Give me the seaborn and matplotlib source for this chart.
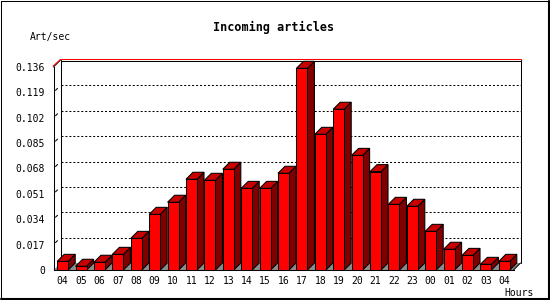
import numpy as np
import pandas as pd
import matplotlib
matplotlib.use("Agg")
import matplotlib.pyplot as plt
import seaborn as sns
from matplotlib.patches import Polygon
from matplotlib.lines import Line2D
from matplotlib.transforms import IdentityTransform

hours = ["04", "05", "06", "07", "08", "09", "10", "11", "12", "13", "14", "15",
         "16", "17", "18", "19", "20", "21", "22", "23", "00", "01", "02", "03", "04"]
rates = [0.0058, 0.0025, 0.0052, 0.0105, 0.0212, 0.0373, 0.0454, 0.0608, 0.0601,
         0.0675, 0.0547, 0.0547, 0.0648, 0.1351, 0.0909, 0.1077, 0.0768, 0.0659,
         0.0440, 0.0427, 0.0259, 0.0139, 0.0098, 0.0038, 0.0058]
yticks = [0, 0.017, 0.034, 0.051, 0.068, 0.085, 0.102, 0.119, 0.136]
ytick_labels = ["0", "0.017", "0.034", "0.051", "0.068", "0.085", "0.102", "0.119", "0.136"]
title = "Incoming articles"
ylabel = "Art/sec"
xlabel = "Hours"

sns.set_style("white")
plt.rcParams["font.family"] = ["DejaVu Sans Mono"]

W, H = 550, 300
fig = plt.figure(figsize=(W / 100, H / 100), dpi=100)
ax = fig.add_axes([53.5 / W, 30 / H, 460 / W, 203 / H])
ax.patch.set_visible(False)

df = pd.DataFrame({"pos": range(len(hours)), "rate": rates})
sns.barplot(data=df, x="pos", y="rate", color="#ff0000", saturation=1, width=0.6,
            edgecolor="black", linewidth=0.75, ax=ax, zorder=5)

n = len(hours)
ymax = yticks[-1]
ax.set_xlim(-0.5, n - 0.5)
ax.set_ylim(0, ymax)
ax.set_xlabel("")
ax.set_ylabel("")

for s in ["top", "right"]:
    ax.spines[s].set_visible(False)
for s in ["left", "bottom"]:
    ax.spines[s].set_color("black")
    ax.spines[s].set_linewidth(0.75)

ax.set_xticks(range(n), labels=hours)
ax.set_xticks(np.arange(-0.5, n, 1), minor=True)
ax.tick_params(axis="x", which="major", length=0, pad=4, labelsize=7, colors="black")
ax.tick_params(axis="x", which="minor", length=3, width=0.75, direction="out", color="black")
ax.set_yticks(yticks, labels=ytick_labels)
ax.tick_params(axis="y", length=3, width=0.75, pad=3, direction="out", labelsize=7, colors="black")

D = 7.0
fig.canvas.draw()


def disp(x, y, dx=0.0, dy=0.0):
    p = ax.transData.transform((x, y))
    return (p[0] + dx, p[1] + dy)


ident = IdentityTransform()


def line(p0, p1, **kw):
    ax.add_line(Line2D([p0[0], p1[0]], [p0[1], p1[1]], transform=ident, clip_on=False, **kw))


# floor
fl = [disp(-0.5, 0), disp(n - 0.5, 0), disp(n - 0.5, 0, D, D), disp(-0.5, 0, D, D)]
ax.add_patch(Polygon(fl, closed=True, transform=ident, clip_on=False,
                     facecolor="#8c8c8c", edgecolor="none", zorder=1))

# back wall grid
for v in yticks[1:-1]:
    line(disp(-0.5, v, D, D), disp(n - 0.5, v, D, D), color="black", lw=0.75,
         linestyle=(0, (1.9, 1.9)), zorder=1.5)
    line(disp(-0.5, v, 2.0, 2.0), disp(-0.5, v, 4.0, 4.0), color="black", lw=0.75, zorder=1.5)

# wall outline
wtl = disp(-0.5, ymax, D, D)
wtr = disp(n - 0.5, ymax, D, D)
wbl = disp(-0.5, 0, D, D)
wbr = disp(n - 0.5, 0, D, D)
line(wbl, wtl, color="black", lw=0.75, zorder=2)
line((wtl[0], wtl[1] - 0.6), (wtr[0], wtr[1] - 0.6), color="black", lw=0.75, zorder=2)
line(wtr, wbr, color="black", lw=0.75, zorder=2)
line(disp(-0.5, ymax), wtl, color="black", lw=0.75, zorder=2)
line(disp(n - 0.5, 0), wbr, color="black", lw=0.75, zorder=2)
# red line just above top
line(disp(-0.5, ymax, -0.5, 0.8), disp(-0.5, ymax, D, D + 0.6), color="#ff0000", lw=0.75, zorder=2.1)
line(disp(-0.5, ymax, D, D + 0.6), disp(n - 0.5, ymax, D, D + 0.6), color="#ff0000", lw=0.75, zorder=2.1)

# 3D faces of bars
for p in list(ax.patches):
    if not hasattr(p, "get_width") or p.zorder != 5:
        continue
    x0, w, h = p.get_x(), p.get_width(), p.get_height()
    x1 = x0 + w
    side = [disp(x1, 0), disp(x1, 0, D, D), disp(x1, h, D, D), disp(x1, h)]
    top = [disp(x0, h), disp(x1, h), disp(x1, h, D, D), disp(x0, h, D, D)]
    ax.add_patch(Polygon(side, closed=True, transform=ident, clip_on=False,
                         facecolor="#800000", edgecolor="black", lw=0.75, zorder=4))
    ax.add_patch(Polygon(top, closed=True, transform=ident, clip_on=False,
                         facecolor="#c80000", edgecolor="black", lw=0.75, zorder=4))

# texts
fig.text(274 / W, 1 - 27 / H, title, ha="center", va="center", fontsize=8.5,
         fontweight="bold", color="black")
fig.text(50.5 / W, 1 - 37 / H, ylabel, ha="center", va="center", fontsize=7, color="black")
fig.text(519 / W, 1 - 292.5 / H, xlabel, ha="center", va="center", fontsize=7, color="black")

# outer frame
for (xa, ya, xb, yb, lw) in [(0.5, 0.5, 548, 0.5, 0.75), (0.5, 0.5, 0.5, 298.5, 0.75),
                             (548.5, 0.5, 548.5, 299, 1.5), (0.5, 298.5, 549, 298.5, 1.5)]:
    fig.add_artist(Line2D([xa, xb], [H - ya, H - yb], transform=ident, color="black", lw=lw))

fig.savefig("out.png", dpi=100)
